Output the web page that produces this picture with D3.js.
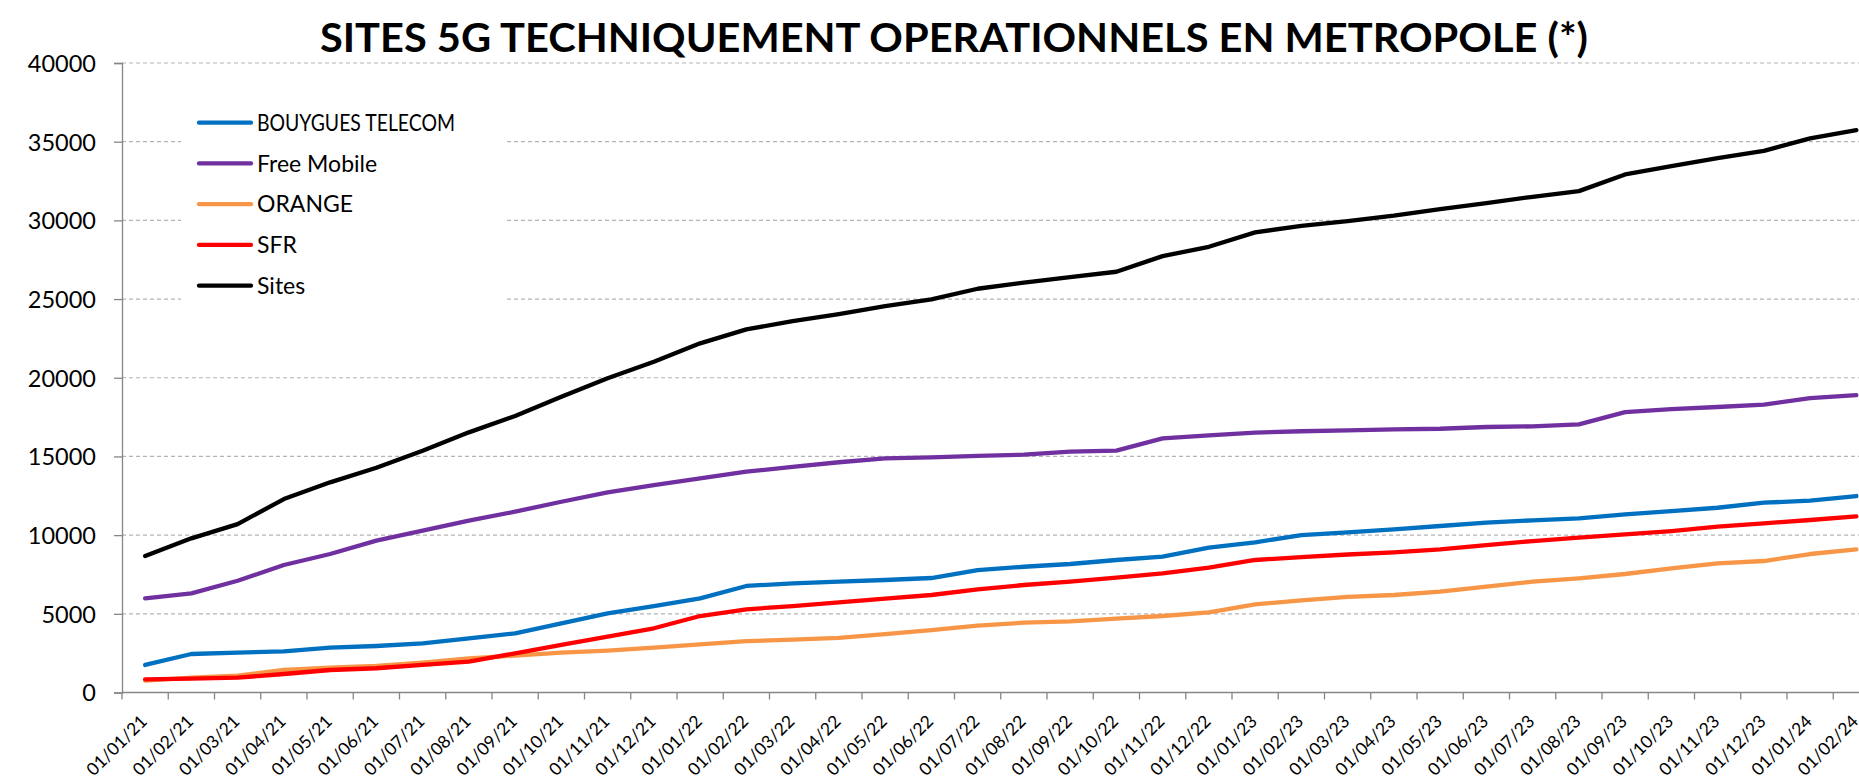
<!DOCTYPE html>
<html>
<head>
<meta charset="utf-8">
<script src="https://cdn.jsdelivr.net/npm/d3@7"></script>
<style>
    body { margin: 0; background: #fff; }
    svg { display: block; font-family: Lato, "Liberation Sans", sans-serif; }
</style>
</head>
<body>
<svg id="chart" width="1859" height="781"></svg>
<script>
// months on the x axis
var months = [
    "01/01/21", "01/02/21", "01/03/21", "01/04/21", "01/05/21", "01/06/21",
    "01/07/21", "01/08/21", "01/09/21", "01/10/21", "01/11/21", "01/12/21",
    "01/01/22", "01/02/22", "01/03/22", "01/04/22", "01/05/22", "01/06/22",
    "01/07/22", "01/08/22", "01/09/22", "01/10/22", "01/11/22", "01/12/22",
    "01/01/23", "01/02/23", "01/03/23", "01/04/23", "01/05/23", "01/06/23",
    "01/07/23", "01/08/23", "01/09/23", "01/10/23", "01/11/23", "01/12/23",
    "01/01/24", "01/02/24"
];

// sites per operator
var bouygues = [1750, 2445, 2530, 2615, 2850, 2955, 3125, 3440, 3760, 4395, 5030, 5495, 5985,
    6770, 6940, 7040, 7150, 7275, 7780, 7990, 8165, 8420, 8630, 9200, 9545, 10005, 10180,
    10370, 10580, 10790, 10940, 11070, 11320, 11530, 11740, 12060, 12190, 12485];
var free = [5985, 6300, 7100, 8100, 8800, 9650, 10280, 10915, 11490, 12120, 12720, 13180, 13610,
    14030, 14330, 14630, 14880, 14945, 15030, 15110, 15300, 15365, 16150, 16340, 16510, 16600, 16660,
    16720, 16760, 16870, 16910, 17040, 17820, 18010, 18140, 18290, 18710, 18900];
var orange = [750, 940, 1070, 1430, 1575, 1685, 1895, 2170, 2340, 2530, 2655, 2845, 3060,
    3270, 3355, 3465, 3715, 3970, 4245, 4435, 4525, 4690, 4860, 5095, 5605, 5850, 6070,
    6195, 6405, 6725, 7040, 7255, 7530, 7890, 8210, 8355, 8800, 9100];
var sfr = [840, 880, 940, 1175, 1430, 1540, 1750, 1960, 2490, 3020, 3545, 4080, 4860,
    5285, 5495, 5730, 5960, 6195, 6555, 6830, 7040, 7295, 7575, 7930, 8420, 8600, 8770,
    8905, 9095, 9370, 9625, 9835, 10050, 10260, 10535, 10750, 10960, 11195];
var sites = [8670, 9795, 10700, 12290, 13355, 14285, 15365, 16530, 17570, 18795, 19965, 21020, 22185,
    23075, 23600, 24050, 24550, 24980, 25655, 26050, 26400, 26735, 27730, 28320, 29240, 29650, 29950,
    30300, 30720, 31100, 31500, 31860, 32920, 33450, 33950, 34420, 35210, 35737];

var seriesNames = ["BOUYGUES TELECOM", "Free Mobile", "ORANGE", "SFR", "Sites"];
var seriesColors = ["#0070C0", "#7030A0", "#F79646", "#FF0000", "#000000"];
var yTicks = [0, 5000, 10000, 15000, 20000, 25000, 30000, 35000, 40000];

var title = "SITES 5G TECHNIQUEMENT OPERATIONNELS EN METROPOLE (*)";

var svg = d3.select("#chart");

// plot box - the right side runs off the picture like in the original
// (careful: "top" is taken by window.top)
var plotLeft = 122, plotTop = 63, plotBottom = 692.5;
var band = 46.25;

var x = d3.scaleBand()
    .domain(months)
    .range([plotLeft, plotLeft + band * months.length])
    .paddingInner(0).paddingOuter(0);

var y = d3.scaleLinear()
    .domain([0, 40000])
    .range([plotBottom, plotTop]);

// dashed grid
svg.append("g")
    .selectAll("line")
    .data(yTicks.filter(function (d) { return d > 0; }))
    .enter().append("line")
    .attr("x1", plotLeft).attr("x2", x.range()[1])
    .attr("y1", function (d) { return y(d); })
    .attr("y2", function (d) { return y(d); })
    .attr("stroke", "#b4b4b4")
    .attr("stroke-width", 1.2)
    .attr("stroke-dasharray", "4,3");

// y axis
var yAxis = d3.axisLeft(y).tickValues(yTicks).tickSize(8).tickPadding(18)
    .tickFormat(function (d) { return d; });
var gy = svg.append("g").attr("transform", "translate(" + plotLeft + ",0)").call(yAxis);
gy.select(".domain").attr("stroke", "#868686").attr("stroke-width", 1.3);
gy.selectAll(".tick line").attr("stroke", "#868686").attr("stroke-width", 1.3);
gy.selectAll(".tick text")
    .attr("font-family", "Lato, sans-serif")
    .attr("font-size", 23.5)
    .attr("fill", "#000")
    .attr("dy", "0.36em");

// x axis - ticks on the band edges, labels rotated
var gx = svg.append("g").attr("transform", "translate(0," + plotBottom + ")");
gx.append("line")
    .attr("x1", plotLeft).attr("x2", x.range()[1])
    .attr("stroke", "#868686").attr("stroke-width", 1.3);
gx.selectAll(".tk")
    .data(d3.range(months.length + 1))
    .enter().append("line")
    .attr("class", "tk")
    .attr("x1", function (i) { return plotLeft + i * x.bandwidth(); })
    .attr("x2", function (i) { return plotLeft + i * x.bandwidth(); })
    .attr("y1", 0).attr("y2", 7)
    .attr("stroke", "#868686").attr("stroke-width", 1.3);
gx.selectAll(".lbl")
    .data(months)
    .enter().append("text")
    .attr("class", "lbl")
    .attr("text-anchor", "end")
    .attr("font-size", 17.5)
    .attr("transform", function (d) {
        var cx = x(d) + x.bandwidth() / 2 + 3;
        return "translate(" + cx + ",30) rotate(-45)";
    })
    .text(function (d) { return d; });

// lines
var allSeries = [bouygues, free, orange, sfr, sites];
var line = d3.line()
    .x(function (d, i) { return x(months[i]) + x.bandwidth() / 2; })
    .y(function (d) { return y(d); });

svg.append("g")
    .selectAll("path")
    .data(allSeries)
    .enter().append("path")
    .attr("d", line)
    .attr("fill", "none")
    .attr("stroke", function (d, i) { return seriesColors[i]; })
    .attr("stroke-width", 4.3)
    .attr("stroke-linejoin", "round")
    .attr("stroke-linecap", "round");

// legend box (white, hides the grid behind it)
var lg = svg.append("g");
lg.append("rect")
    .attr("x", 181).attr("y", 96).attr("width", 326).attr("height", 214)
    .attr("fill", "#fff");
var legendY = d3.scalePoint().domain(seriesNames).range([122.7, 285.7]);
seriesNames.forEach(function (name, i) {
    var ly = legendY(name);
    lg.append("line")
        .attr("x1", 199).attr("x2", 251)
        .attr("y1", ly).attr("y2", ly)
        .attr("stroke", seriesColors[i])
        .attr("stroke-width", 4.3)
        .attr("stroke-linecap", "round");
    var lt = lg.append("text")
        .attr("x", 257).attr("y", ly)
        .attr("dy", "0.36em")
        .attr("font-size", 23)
        .text(name);
    // lato caps run wider than the original font, pull the long one in
    if (lt.node().getComputedTextLength() > 200) {
        lt.attr("textLength", 198).attr("lengthAdjust", "spacingAndGlyphs");
    }
});

// title, stretched to the width of the original
var t = svg.append("text")
    .attr("x", 954).attr("y", 52)
    .attr("text-anchor", "middle")
    .attr("font-weight", "bold")
    .attr("font-size", 40)
    .attr("textLength", 1268)
    .attr("lengthAdjust", "spacingAndGlyphs")
    .text(title);
</script>
</body>
</html>
